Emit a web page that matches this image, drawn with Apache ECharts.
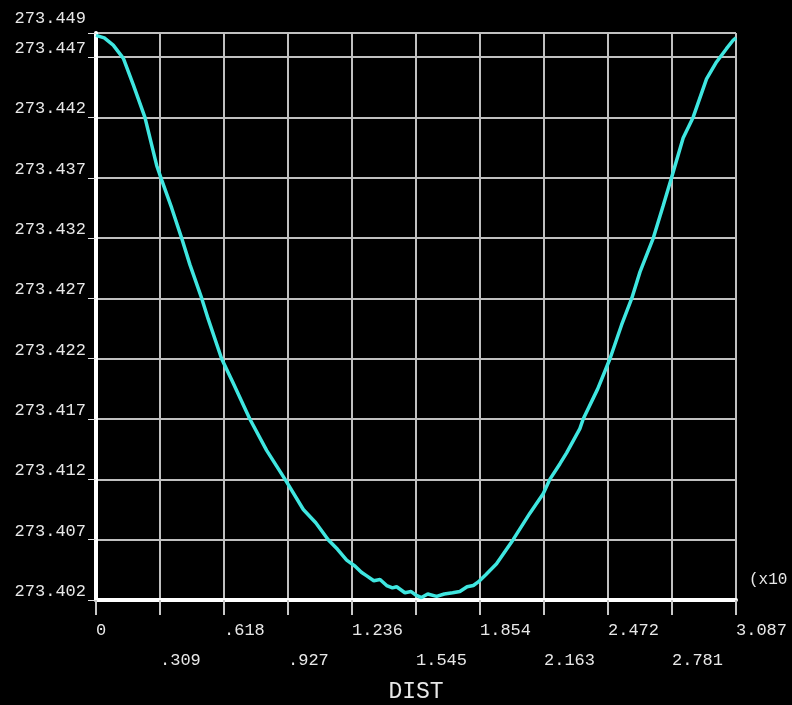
<!DOCTYPE html>
<html>
<head>
<meta charset="utf-8">
<script src="https://cdn.jsdelivr.net/npm/echarts@6/dist/echarts.min.js"></script>
<style>
html,body{margin:0;padding:0;background:#000;}
#chart{width:792px;height:705px;}
</style>
</head>
<body>
<div id="chart"></div>
<script>
// DIST values (x axis, in units of x10) and the plotted quantity
const distValues = [0, 0.04, 0.083, 0.132, 0.180, 0.236, 0.293, 0.317, 0.365, 0.413, 0.453, 0.510, 0.541,
  0.606, 0.661, 0.742, 0.823, 0.912, 1.000, 1.060, 1.120, 1.165, 1.209, 1.250, 1.280, 1.306, 1.340, 1.370,
  1.402, 1.430, 1.450, 1.490, 1.520, 1.543, 1.570, 1.600, 1.643, 1.680, 1.720, 1.755, 1.790, 1.820,
  1.844, 1.880, 1.932, 2.012, 2.093, 2.157, 2.189, 2.238, 2.270, 2.334, 2.350, 2.420, 2.479, 2.535,
  2.584, 2.624, 2.688, 2.736, 2.776, 2.832, 2.880, 2.945, 2.993, 3.041, 3.073, 3.087];
const yValues = [273.4488, 273.4486, 273.4480, 273.4469, 273.4447, 273.4420, 273.4380, 273.4368, 273.4345,
  273.4320, 273.4298, 273.4270, 273.4253,
  273.4220, 273.4200, 273.4170, 273.4144, 273.4120, 273.4095, 273.4084, 273.4070, 273.4062, 273.4053,
  273.4048, 273.4043, 273.4040, 273.4036, 273.4037,
  273.4032, 273.4030, 273.4031, 273.4026, 273.4027, 273.4024, 273.4022, 273.4025, 273.4023, 273.4025,
  273.4026, 273.4027, 273.4031, 273.4032,
  273.4035, 273.4041, 273.4050, 273.4070, 273.4092, 273.4108, 273.4120, 273.4133, 273.4142, 273.4162,
  273.4170, 273.4195, 273.4220, 273.4248,
  273.4270, 273.4292, 273.4320, 273.4347, 273.4370, 273.4403, 273.4420, 273.4452, 273.4466, 273.4477,
  273.4484, 273.4486];
const xTickLabels = ['0', '.309', '.618', '.927', '1.236', '1.545', '1.854', '2.163', '2.472', '2.781', '3.087'];
const yMin = 273.402, yMax = 273.449, yStep = 0.005;
const xMin = 0, xMax = 3.087, xStep = 0.3087;

const seriesData = distValues.map((d, i) => [d, yValues[i]]);
const mono = '"Liberation Mono", "DejaVu Sans Mono", monospace';

const chart = echarts.init(document.getElementById('chart'), null, {renderer: 'canvas'});
chart.setOption({
  backgroundColor: '#000000',
  animation: false,
  grid: {left: 96, right: 56, top: 33, bottom: 105, containLabel: false, outerBoundsMode: 'none'},
  xAxis: {
    type: 'value',
    min: xMin, max: xMax, interval: xStep,
    name: 'DIST',
    nameLocation: 'middle',
    nameGap: 80,
    nameMoveOverlap: false,
    nameTextStyle: {color: '#e8e8e8', fontFamily: mono, fontSize: 23},
    axisLine: {show: true, onZero: false, lineStyle: {color: '#ffffff', width: 4}},
    axisTick: {show: true, length: 15, inside: false, lineStyle: {color: '#c8c8c8', width: 2}},
    splitLine: {show: true, lineStyle: {color: '#c0c0c0', width: 2}},
    axisLabel: {
      show: true,
      color: '#e8e8e8',
      fontFamily: mono,
      fontSize: 17,
      align: 'left',
      margin: 22,
      showMaxLabel: true,
      showMinLabel: true,
      formatter: function (v) {
        const idx = Math.round(v / xStep);
        const t = xTickLabels[idx] !== undefined ? xTickLabels[idx] : '';
        return idx % 2 === 0 ? '{a|' + t + '}' : '{b|' + t + '}';
      },
      rich: {
        a: {color: '#e8e8e8', fontFamily: mono, fontSize: 17, padding: [0, 0, 0, 0]},
        b: {color: '#e8e8e8', fontFamily: mono, fontSize: 17, padding: [30, 0, 0, 0]}
      }
    }
  },
  yAxis: {
    type: 'value',
    min: yMin, max: yMax, interval: yStep,
    axisLine: {show: true, onZero: false, lineStyle: {color: '#ffffff', width: 4}},
    axisTick: {show: true, length: 8, lineStyle: {color: '#e0e0e0', width: 1}},
    splitLine: {show: true, lineStyle: {color: '#c0c0c0', width: 2}},
    axisLabel: {
      show: true,
      color: '#e8e8e8',
      fontFamily: mono,
      fontSize: 17,
      margin: 10,
      verticalAlign: 'bottom',
      showMaxLabel: true,
      showMinLabel: true,
      formatter: function (v) {
        const s = v.toFixed(3);
        return Math.abs(v - yMax) < 1e-7 ? '{t|' + s + '}' : s;
      },
      rich: {
        t: {color: '#e8e8e8', fontFamily: mono, fontSize: 17, padding: [0, 0, 6, 0]}
      }
    }
  },
  graphic: [{
    type: 'text',
    left: 749,
    top: 572,
    style: {text: '(x10', fill: '#e8e8e8', font: '16px ' + mono}
  }],
  series: [{
    type: 'line',
    data: seriesData,
    showSymbol: false,
    smooth: false,
    lineStyle: {color: '#3fe6e0', width: 3.5},
    z: 1
  }]
});
</script>
</body>
</html>
